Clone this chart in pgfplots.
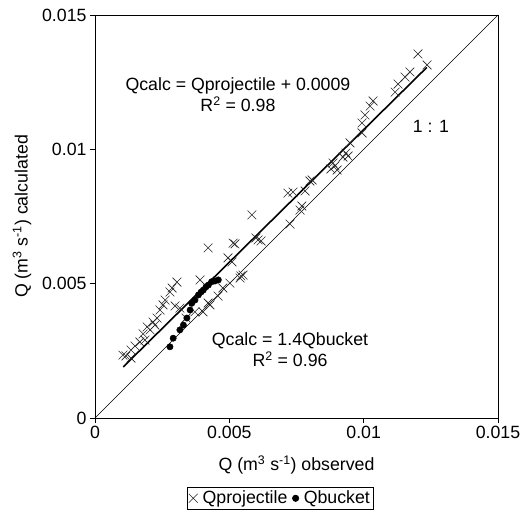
\documentclass[border=0pt]{standalone}
\usepackage{fontspec}
\setmainfont{Liberation Sans}
\usepackage{pgfplots}
\pgfplotsset{compat=1.18}
\begin{document}
\begin{tikzpicture}[font=\fontsize{17.8}{21}\selectfont]
\begin{axis}[
  scale only axis, width=403bp, height=403bp,
  xmin=0, xmax=0.015, ymin=0, ymax=0.015,
  scaled ticks=false,
  xtick={0,0.005,0.01,0.015}, xticklabels={0,0.005,0.01,0.015},
  ytick={0,0.005,0.01,0.015}, yticklabels={0,0.005,0.01,0.015},
  tick align=outside, tick pos=left, major tick length=5bp,
  tick style={black, line width=0.8pt},
  axis line style={black, line width=0.8pt},
  tick label style={font=\fontsize{17.8}{21}\selectfont},
  label style={font=\fontsize{17.8}{21}\selectfont},
  xlabel={Q (m\textsuperscript{3} s\textsuperscript{-1}) observed},
  ylabel={Q (m\textsuperscript{3} s\textsuperscript{-1}) calculated},
  xlabel style={yshift=-10bp},
  ylabel style={yshift=4bp},
  legend style={at={(0.46,-0.172)}, anchor=north, legend columns=2, draw=black, line width=0.6pt,
    font=\fontsize{17.8}{21}\selectfont, inner sep=1.5bp,
    /tikz/every even column/.append style={column sep=3bp}},
  legend cell align=left,
  clip=false,
]
% 1:1 line
\addplot[black, line width=0.5pt, forget plot] coordinates {(0,0) (0.015,0.015)};
% regression line
\addplot[black, line width=1.6pt, forget plot] coordinates {(0.00105,0.0019) (0.01235,0.01305)};
\addplot[only marks, mark=x, mark size=6.2bp, mark options={black!85, line width=0.6pt}] table {
x y
0.01202 0.01355
0.01236 0.01314
0.01172 0.01288
0.01154 0.01269
0.01128 0.01243
0.01117 0.01213
0.01035 0.01180
0.01024 0.01161
0.01005 0.01128
0.00994 0.01098
0.00994 0.01061
0.00949 0.01024
0.00934 0.00986
0.00942 0.00975
0.00923 0.00971
0.00893 0.00938
0.00886 0.00949
0.00901 0.00923
0.00878 0.00927
0.00808 0.00886
0.00800 0.00882
0.00782 0.00845
0.00737 0.00841
0.00718 0.00837
0.00770 0.00789
0.00763 0.00774
0.00726 0.00722
0.00618 0.00659
0.00607 0.00663
0.00599 0.00670
0.00584 0.00756
0.00521 0.00648
0.00514 0.00651
0.00510 0.00581
0.00495 0.00596
0.00551 0.00532
0.00543 0.00529
0.00540 0.00521
0.00502 0.00502
0.00476 0.00484
0.00458 0.00454
0.00428 0.00421
0.00421 0.00428
0.00402 0.00395
0.00372 0.00395
0.00339 0.00372
0.00421 0.00633
0.00391 0.00514
0.00305 0.00506
0.00287 0.00484
0.00279 0.00469
0.00298 0.00417
0.00316 0.00409
0.00253 0.00421
0.00242 0.00402
0.00231 0.00372
0.00216 0.00357
0.00205 0.00328
0.00194 0.00339
0.00179 0.00313
0.00167 0.00283
0.00149 0.00268
0.00134 0.00253
0.00115 0.00231
0.00104 0.00234
0.00134 0.00223
0.00186 0.00290
0.00223 0.00346
0.00261 0.00439
};
\addlegendentry{\hspace{3bp}Qprojectile}
\addplot[only marks, mark=*, mark size=3.2bp, mark options={black}] table {
x y
0.00279 0.00265
0.00291 0.00297
0.00316 0.00328
0.00329 0.00346
0.00342 0.00372
0.00354 0.00402
0.00360 0.00427
0.00372 0.00439
0.00385 0.00458
0.00395 0.00469
0.00403 0.00476
0.00413 0.00488
0.00422 0.00495
0.00434 0.00507
0.00447 0.00510
0.00459 0.00514
};
\addlegendentry{\hspace{3bp}Qbucket}
\node[align=center, font=\fontsize{17.8}{21}\selectfont] at (axis cs:0.00532,0.01204) {Qcalc = Qprojectile + 0.0009\\R\textsuperscript{2} = 0.98};
\node[align=center, font=\fontsize{17.8}{21}\selectfont] at (axis cs:0.00726,0.00253) {Qcalc = 1.4Qbucket\\R\textsuperscript{2} = 0.96};
\node[font=\fontsize{17.8}{21}\selectfont] at (axis cs:0.0125,0.01087) {1 : 1};
\end{axis}
\path (current axis.south west) ++(-95bp,-98bp);
\path (current axis.north east) ++(29bp,15bp);
\end{tikzpicture}
\end{document}
